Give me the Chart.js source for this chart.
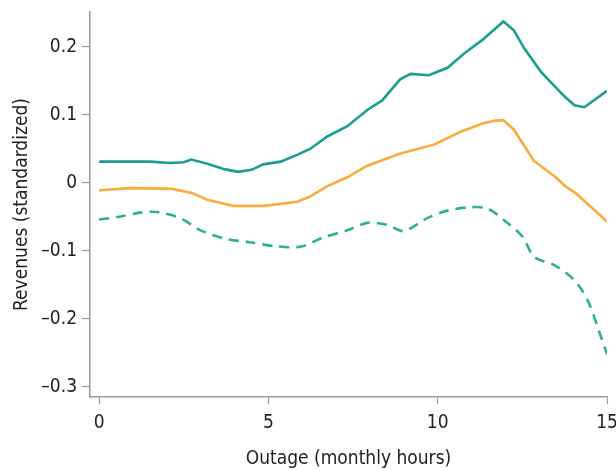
<!DOCTYPE html>
<html>
<head>
<meta charset="utf-8">
<script src="https://cdn.jsdelivr.net/npm/chart.js@4/dist/chart.umd.min.js"></script>
<style>
  html, body { margin: 0; padding: 0; background: #fff; }
  #wrap { width: 616px; height: 470px; }
</style>
</head>
<body>
<div id="wrap"><canvas id="revChart" width="616" height="470"></canvas></div>
<script>
// values
const tealX = [0, 0.9, 1.5, 2.1, 2.5, 2.72, 3.2, 3.7, 4.1, 4.5, 4.85, 5.36, 5.85, 6.24, 6.74, 7.33, 7.92, 8.36, 8.89, 9.2, 9.74, 10.29, 10.78, 11.32, 11.94, 12.25, 12.55, 13.05, 13.74, 14.04, 14.33, 15];
const tealY = [0.031, 0.031, 0.031, 0.029, 0.030, 0.034, 0.028, 0.020, 0.016, 0.019, 0.027, 0.031, 0.041, 0.050, 0.068, 0.083, 0.107, 0.121, 0.152, 0.160, 0.158, 0.169, 0.190, 0.210, 0.237, 0.224, 0.198, 0.163, 0.127, 0.114, 0.111, 0.135];

const orangeX = [0, 0.92, 2.15, 2.74, 3.19, 3.97, 4.86, 5.85, 6.24, 6.74, 7.33, 7.92, 8.9, 9.89, 10.68, 11.32, 11.67, 11.94, 12.25, 12.84, 13.44, 13.79, 14.09, 15];
const orangeY = [-0.011, -0.008, -0.009, -0.015, -0.025, -0.034, -0.034, -0.028, -0.020, -0.005, 0.008, 0.025, 0.043, 0.056, 0.075, 0.087, 0.091, 0.092, 0.078, 0.032, 0.010, -0.006, -0.016, -0.057];

const greenX = [0, 0.6, 1.21, 1.7, 2.4, 2.99, 3.78, 4.4, 5.16, 5.95, 6.64, 7.33, 7.92, 8.51, 9.0, 9.69, 10.29, 10.98, 11.47, 11.96, 12.5, 12.85, 13.44, 14.03, 14.43, 14.82, 15];
const greenY = [-0.054, -0.050, -0.044, -0.043, -0.052, -0.070, -0.083, -0.087, -0.093, -0.094, -0.080, -0.070, -0.059, -0.062, -0.071, -0.052, -0.041, -0.036, -0.038, -0.055, -0.079, -0.109, -0.121, -0.143, -0.173, -0.226, -0.252];

const xTicks = [0, 5, 10, 15];
const yTicks = [-0.3, -0.2, -0.1, 0, 0.1, 0.2];

function toPoints(xs, ys) {
  return xs.map((x, i) => ({ x: x, y: ys[i] }));
}

const axisGrey = '#9a9a9a';
const fontName = '"DejaVu Sans Condensed", "Liberation Sans", Arial, sans-serif';

function fmt(v) {
  if (Math.abs(v) < 1e-9) return '0';
  let s = Math.abs(v).toFixed(1);
  return v < 0 ? '\u2013' + s : s;
}

var ctx = document.getElementById('revChart').getContext('2d');
var myChart = new Chart(ctx, {
  type: 'line',
  data: {
    datasets: [{
      data: toPoints(tealX, tealY),
      borderColor: '#1a9e90',
      borderWidth: 2.6,
      pointRadius: 0,
      tension: 0
    }, {
      data: toPoints(orangeX, orangeY),
      borderColor: '#fbaa3c',
      borderWidth: 2.6,
      pointRadius: 0,
      tension: 0
    }, {
      data: toPoints(greenX, greenY),
      borderColor: '#2bb673',
      borderWidth: 2.6,
      borderDash: [10, 7],
      pointRadius: 0,
      tension: 0.3
    }]
  },
  options: {
    responsive: false,
    animation: false,
    layout: { padding: 0 },
    plugins: { legend: { display: false }, tooltip: { enabled: false } },
    scales: {
      x: {
        type: 'linear',
        min: -0.27,
        max: 15,
        afterBuildTicks: s => { s.ticks = xTicks.map(v => ({ value: v })); },
        afterFit: s => { s.height = 73; s.paddingRight = 9; },
        grid: { display: true, drawOnChartArea: false, drawTicks: true, tickLength: 7, tickColor: axisGrey, tickWidth: 1.2 },
        border: { display: true, color: axisGrey, width: 1.5 },
        ticks: { color: '#222', font: { family: fontName, size: 19 }, padding: 8, maxRotation: 0, callback: v => String(v) },
        title: { display: true, text: 'Outage (monthly hours)', color: '#222', font: { family: fontName, size: 19 }, padding: { top: 8, bottom: 0 } }
      },
      y: {
        min: -0.315,
        max: 0.251,
        afterBuildTicks: s => { s.ticks = yTicks.map(v => ({ value: v })); },
        afterFit: s => { s.width = 90; s.paddingTop = 12; },
        grid: { display: true, drawOnChartArea: false, drawTicks: true, tickLength: 8, tickColor: axisGrey, tickWidth: 1.2 },
        border: { display: true, color: axisGrey, width: 1.5 },
        ticks: { color: '#222', font: { family: fontName, size: 19 }, padding: 5, callback: v => fmt(v) },
        title: { display: true, text: 'Revenues (standardized)', color: '#222', font: { family: fontName, size: 19 }, padding: { top: 11, bottom: 4 } }
      }
    }
  }
});
</script>
</body>
</html>
